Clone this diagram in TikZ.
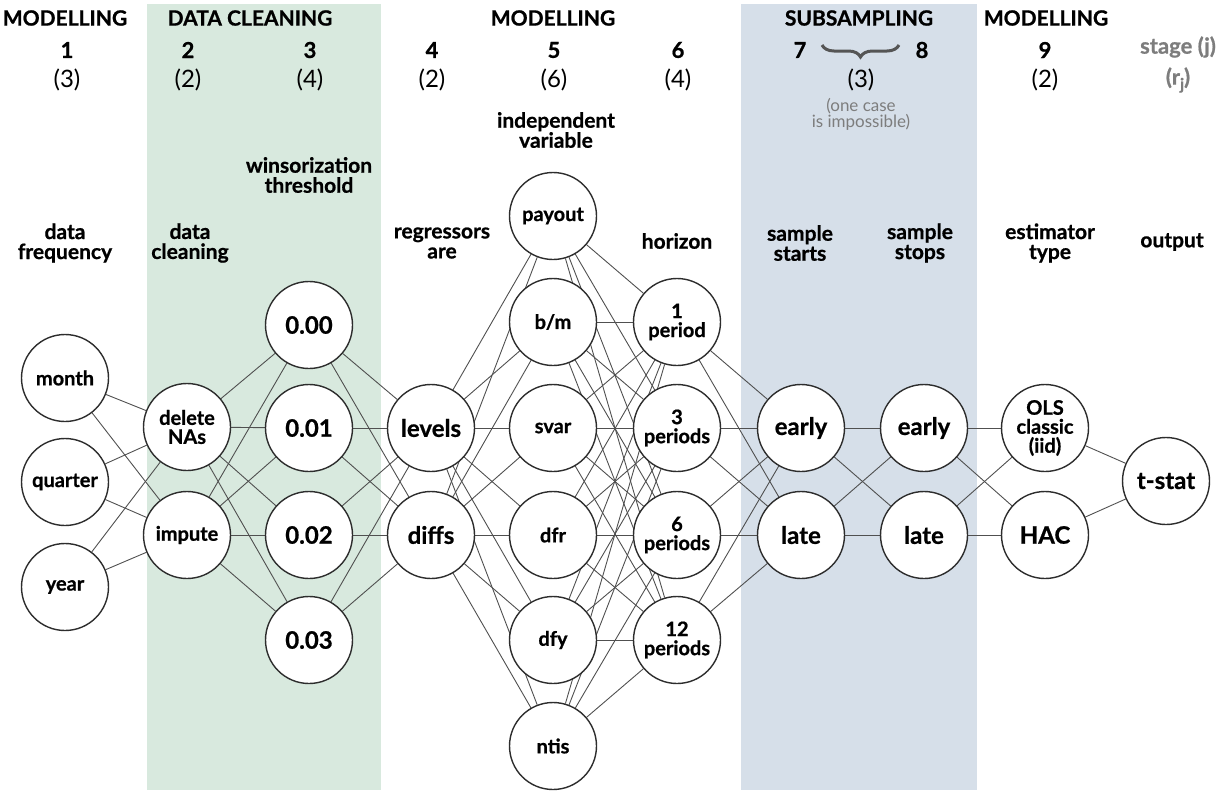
\documentclass[tikz,border=0pt]{standalone}
\usepackage{fontspec}
\setmainfont{Lato}[BoldFeatures={FakeBold=0.8}]
\usetikzlibrary{decorations.pathreplacing}
\definecolor{greenband}{RGB}{216,233,222}
\definecolor{blueband}{RGB}{214,223,233}
\definecolor{edgegray}{RGB}{80,80,80}
\definecolor{nodeborder}{RGB}{45,45,45}
\definecolor{bracegray}{RGB}{85,85,85}
\definecolor{notegray}{RGB}{125,125,125}
\pgfdeclarelayer{bg}
\pgfdeclarelayer{edges}
\pgfsetlayers{bg,edges,main}
\begin{document}
\begin{tikzpicture}[x=1pt,y=-1pt,
  opt/.style={circle,draw=nodeborder,line width=1.4pt,fill=white,minimum size=87pt,inner sep=0pt,align=center,font=\fontsize{20}{19}\selectfont\bfseries},
  big/.style={font=\fontsize{24}{24}\selectfont\bfseries},
  link/.style={draw=edgegray,line width=0.9pt},
  head/.style={font=\fontsize{21}{21}\selectfont\bfseries},
  num/.style={font=\fontsize{22}{22}\selectfont\bfseries},
  cnt/.style={font=\fontsize{24}{24}\selectfont},
  lab/.style={align=center,font=\fontsize{21}{20}\selectfont\bfseries},
  note/.style={align=center,text=notegray,font=\fontsize{17}{16}\selectfont},
  gray/.style={text=notegray,font=\fontsize{22}{22}\selectfont\bfseries}]
\useasboundingbox (0,0) rectangle (1220,790);
\begin{pgfonlayer}{bg}
  \fill[greenband] (147,4) rectangle (381,790);
  \fill[blueband] (741,4) rectangle (977,790);
\end{pgfonlayer}

% header
\node[head] (h1) at (65,18) {MODELLING};
\node[head] (h2) at (250,18) {DATA CLEANING};
\node[head] (h3) at (553,18) {MODELLING};
\node[head] (h4) at (859,18) {SUBSAMPLING};
\node[head] (h5) at (1046,18) {MODELLING};
\node[num] (n1) at (67,50) {1};
\node[num] (n2) at (188,50) {2};
\node[num] (n3) at (310,50) {3};
\node[num] (n4) at (432,50) {4};
\node[num] (n5) at (554,50) {5};
\node[num] (n6) at (678,50) {6};
\node[num] (n7) at (800,50) {7};
\node[num] (n8) at (922,50) {8};
\node[num] (n9) at (1045,50) {9};
\node[gray] (nj) at (1178,47) {stage (j)};
\coordinate (bl) at (822,45);
\coordinate (br) at (899,45);
\draw[decorate,decoration={brace,mirror,amplitude=12pt},line width=3pt,draw=bracegray] (bl) -- (br);
\node[cnt] (c1t) at (67,80) {(3)};
\node[cnt] (c2t) at (188,80) {(2)};
\node[cnt] (c3t) at (310,80) {(4)};
\node[cnt] (c4t) at (432,80) {(2)};
\node[cnt] (c5t) at (554,80) {(6)};
\node[cnt] (c6t) at (678,80) {(4)};
\node[cnt] (c7t) at (861,80) {(3)};
\node[cnt] (c9t) at (1045,80) {(2)};
\node[gray] (rj) at (1178,80) {(r\raisebox{-0.45ex}{\fontsize{16}{16}\selectfont j})};
\node[note] (imp) at (861,114) {(one case\\is impossible)};

% layer labels
\node[lab] (l1) at (65,243) {data\\frequency};
\node[lab] (l2) at (190,243) {data\\cleaning};
\node[lab] (l3) at (309,175) {winsorization\\threshold};
\node[lab] (l4) at (442,243) {regressors\\are};
\node[lab] (l5) at (556,130) {independent\\variable};
\node[lab] (l6) at (677,241) {horizon};
\node[lab] (l7) at (800,243) {sample\\starts};
\node[lab] (l8) at (920,243) {sample\\stops};
\node[lab] (l9) at (1050,243) {estimator\\type};
\node[lab] (lo) at (1172,242) {output};

% nodes
\node[opt] (a1) at (65,378) {month};
\node[opt] (a2) at (65,482) {quarter};
\node[opt] (a3) at (65,587) {year};
\node[opt] (b1) at (187,427) {delete\\NAs};
\node[opt] (b2) at (187,535) {impute};
\node[opt,big] (c1) at (309,325) {0.00};
\node[opt,big] (c2) at (309,428) {0.01};
\node[opt,big] (c3) at (309,535) {0.02};
\node[opt,big] (c4) at (309,640) {0.03};
\node[opt,big] (d1) at (431,428) {levels};
\node[opt,big] (d2) at (431,535) {diffs};
\node[opt] (e1) at (553,216) {payout};
\node[opt] (e2) at (553,322) {b/m};
\node[opt] (e3) at (553,428) {svar};
\node[opt] (e4) at (553,535) {dfr};
\node[opt] (e5) at (553,640) {dfy};
\node[opt] (e6) at (553,746) {ntis};
\node[opt] (f1) at (677,322) {1\\period};
\node[opt] (f2) at (677,428) {3\\periods};
\node[opt] (f3) at (677,535) {6\\periods};
\node[opt] (f4) at (677,640) {12\\periods};
\node[opt,big] (g1) at (801,428) {early};
\node[opt,big] (g2) at (801,535) {late};
\node[opt,big] (h1n) at (924,428) {early};
\node[opt,big] (h2n) at (924,535) {late};
\node[opt] (i1) at (1045,428) {OLS\\classic\\(iid)};
\node[opt,big] (i2) at (1045,535) {HAC};
\node[opt,big] (o) at (1166,481) {t-stat};

% edges
\begin{pgfonlayer}{edges}
  \foreach \u in {a1,a2,a3}{\foreach \v in {b1,b2}{\draw[link] (\u) -- (\v);}}
  \foreach \u in {b1,b2}{\foreach \v in {c1,c2,c3,c4}{\draw[link] (\u) -- (\v);}}
  \foreach \u in {c1,c2,c3,c4}{\foreach \v in {d1,d2}{\draw[link] (\u) -- (\v);}}
  \foreach \u in {d1,d2}{\foreach \v in {e1,e2,e3,e4,e5,e6}{\draw[link] (\u) -- (\v);}}
  \foreach \u in {e1,e2,e3,e4,e5,e6}{\foreach \v in {f1,f2,f3,f4}{\draw[link] (\u) -- (\v);}}
  \foreach \u in {f1,f2,f3,f4}{\foreach \v in {g1,g2}{\draw[link] (\u) -- (\v);}}
  \foreach \u in {g1,g2}{\foreach \v in {h1n,h2n}{\draw[link] (\u) -- (\v);}}
  \foreach \u in {h1n,h2n}{\foreach \v in {i1,i2}{\draw[link] (\u) -- (\v);}}
  \foreach \u in {i1,i2}{\draw[link] (\u) -- (o);}
\end{pgfonlayer}
\end{tikzpicture}
\end{document}
